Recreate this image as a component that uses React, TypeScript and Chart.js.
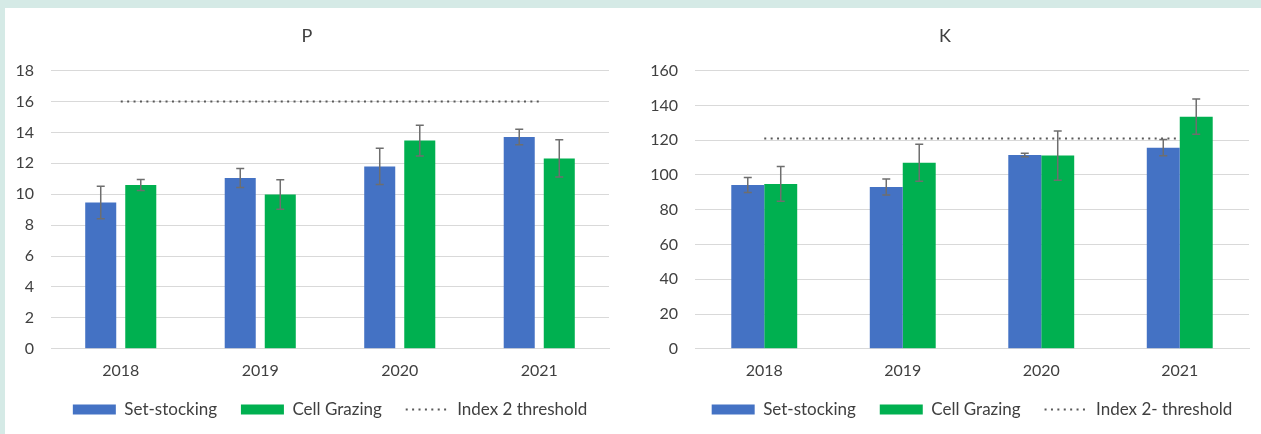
import React, { useEffect, useRef } from "react";
import { Chart, registerables } from "chart.js";

Chart.register(...registerables);

// Categories
const years = ["2018", "2019", "2020", "2021"];

// P panel
const pSetStocking = [9.46, 11.05, 11.8, 13.7];
const pSetStockingErr = [1.05, 0.62, 1.17, 0.5];
const pCellGrazing = [10.6, 9.98, 13.47, 12.32];
const pCellGrazingErr = [0.36, 0.95, 1.0, 1.2];
const pThreshold = [16, 16, 16, 16];
const pTicks = { min: 0, max: 18, step: 2 };

// K panel
const kSetStocking = [94.2, 93.1, 111.4, 115.7];
const kSetStockingErr = [4.3, 4.6, 1.0, 4.7];
const kCellGrazing = [94.8, 107.0, 111.1, 133.5];
const kCellGrazingErr = [10.0, 10.6, 14.1, 10.1];
const kThreshold = [121, 121, 121, 121];
const kTicks = { min: 0, max: 160, step: 20 };

const BLUE = "#4472C4";
const GREEN = "#00B050";
const TEXT = "#404040";
const GRID = "#D9D9D9";
const THRESHOLD = "#595959";
const THRESHOLD_DASH = [2, 4.4];
const FONT = "Lato, 'Open Sans', sans-serif";
// extra horizontal room after a legend entry (em space + thin space)
const LEGEND_GAP = "\u2003\u2009";

type PanelSpec = {
  title: string;
  setStocking: number[];
  setStockingErr: number[];
  cellGrazing: number[];
  cellGrazingErr: number[];
  threshold: number[];
  thresholdLabel: string;
  ticks: { min: number; max: number; step: number };
  yAxisWidth: number;
  rightPad: number;
  categoryPercentage: number;
  barPercentage: number;
};

// Draws vertical error bars with caps on top of the bar datasets
function errorBarPlugin(errors: Record<number, number[]>) {
  return {
    id: "errorBars",
    afterDatasetsDraw(chart: any) {
      const ctx = chart.ctx;
      const yScale = chart.scales.y;
      ctx.save();
      ctx.strokeStyle = "#6E6E6E";
      ctx.lineWidth = 1.5;
      Object.keys(errors).forEach((key) => {
        const idx = Number(key);
        const meta = chart.getDatasetMeta(idx);
        const values = chart.data.datasets[idx].data as number[];
        meta.data.forEach((el: any, i: number) => {
          const v = values[i];
          const e = errors[idx][i];
          const x = el.x;
          const yTop = yScale.getPixelForValue(v + e);
          const yBot = yScale.getPixelForValue(v - e);
          const cap = 4;
          ctx.beginPath();
          ctx.moveTo(x, yTop);
          ctx.lineTo(x, yBot);
          ctx.moveTo(x - cap, yTop);
          ctx.lineTo(x + cap, yTop);
          ctx.moveTo(x - cap, yBot);
          ctx.lineTo(x + cap, yBot);
          ctx.stroke();
        });
      });
      ctx.restore();
    },
  };
}

function Panel({ spec, width, height }: { spec: PanelSpec; width: number; height: number }) {
  const ref = useRef<HTMLCanvasElement>(null);

  useEffect(() => {
    if (!ref.current) return;
    const chart = new Chart(ref.current, {
      type: "bar",
      data: {
        labels: years,
        datasets: [
          {
            type: "bar",
            label: "Set-stocking",
            data: spec.setStocking,
            backgroundColor: BLUE,
            borderWidth: 0,
            categoryPercentage: spec.categoryPercentage,
            barPercentage: spec.barPercentage,
          },
          {
            type: "bar",
            label: "Cell Grazing",
            data: spec.cellGrazing,
            backgroundColor: GREEN,
            borderWidth: 0,
            categoryPercentage: spec.categoryPercentage,
            barPercentage: spec.barPercentage,
          },
          {
            type: "line",
            label: spec.thresholdLabel,
            data: spec.threshold,
            borderColor: THRESHOLD,
            backgroundColor: THRESHOLD,
            borderWidth: 2,
            borderDash: THRESHOLD_DASH,
            pointRadius: 0,
            fill: false,
          },
        ] as any,
      },
      options: {
        responsive: false,
        animation: false,
        layout: { padding: { left: 0, right: spec.rightPad, top: 0, bottom: 6 } },
        plugins: {
          title: {
            display: true,
            text: spec.title,
            color: TEXT,
            font: { family: FONT, size: 18, weight: "normal" },
            padding: { top: 17, bottom: 24 },
          },
          legend: {
            position: "bottom",
            fullSize: false,
            labels: {
              color: TEXT,
              font: { family: FONT, size: 17 },
              usePointStyle: true,
              pointStyleWidth: 43,
              boxHeight: 10,
              padding: 9,
              generateLabels: (c: any) =>
                Chart.defaults.plugins.legend.labels.generateLabels(c).map((item: any, i: number) =>
                  i === 2
                    ? {
                        ...item,
                        pointStyle: "line",
                        lineWidth: 2,
                        strokeStyle: THRESHOLD,
                        lineDash: THRESHOLD_DASH,
                      }
                    : { ...item, text: item.text + LEGEND_GAP, pointStyle: "rect", lineWidth: 0 }
                ),
            },
          },
          tooltip: { enabled: false },
        },
        scales: {
          x: {
            grid: { display: false, drawTicks: false },
            border: { display: true, color: GRID },
            ticks: { color: TEXT, font: { family: FONT, size: 16 }, padding: 12 },
          },
          y: {
            min: spec.ticks.min,
            max: spec.ticks.max,
            afterFit: (scale: any) => {
              scale.width = spec.yAxisWidth;
            },
            grid: { color: GRID, drawTicks: false },
            border: { display: false },
            ticks: {
              stepSize: spec.ticks.step,
              color: TEXT,
              font: { family: FONT, size: 16 },
              padding: 17,
            },
          },
        },
      } as any,
      plugins: [errorBarPlugin({ 0: spec.setStockingErr, 1: spec.cellGrazingErr })],
    });
    return () => chart.destroy();
  }, [spec]);

  return <canvas ref={ref} width={width} height={height} style={{ display: "block" }} />;
}

const pSpec: PanelSpec = {
  title: "P",
  setStocking: pSetStocking,
  setStockingErr: pSetStockingErr,
  cellGrazing: pCellGrazing,
  cellGrazingErr: pCellGrazingErr,
  threshold: pThreshold,
  thresholdLabel: "Index 2 threshold",
  ticks: pTicks,
  yAxisWidth: 46,
  rightPad: 18,
  categoryPercentage: 0.574,
  barPercentage: 0.775,
};

const kSpec: PanelSpec = {
  title: "K",
  setStocking: kSetStocking,
  setStockingErr: kSetStockingErr,
  cellGrazing: kCellGrazing,
  cellGrazingErr: kCellGrazingErr,
  threshold: kThreshold,
  thresholdLabel: "Index 2- threshold",
  ticks: kTicks,
  yAxisWidth: 54,
  rightPad: 12,
  categoryPercentage: 0.476,
  barPercentage: 1.0,
};

export default function App() {
  return (
    <div
      style={{
        position: "absolute",
        left: 0,
        top: 0,
        width: 1261,
        height: 434,
        background: "#D5EAE6",
        overflow: "hidden",
      }}
    >
      <div style={{ position: "absolute", left: 5, top: 8, width: 1256, height: 426, background: "#FFFFFF" }} />
      <div style={{ position: "absolute", left: 5, top: 8 }}>
        <Panel spec={pSpec} width={622} height={426} />
      </div>
      <div style={{ position: "absolute", left: 641, top: 8 }}>
        <Panel spec={kSpec} width={620} height={426} />
      </div>
    </div>
  );
}
